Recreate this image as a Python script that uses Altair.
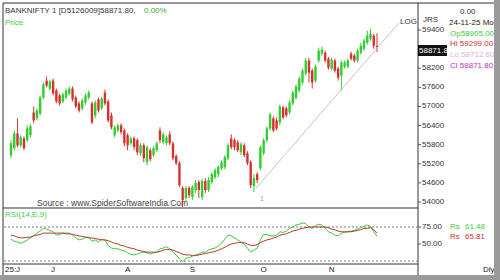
import altair as alt
import pandas as pd

# ---------------- data ----------------
opn = [55470, 55690, 56155, 55780, 56000, 55940, 56095, 56810, 56625, 56780,
       57280, 57810, 57560, 57810, 57500, 57345, 57155, 57280, 57405, 57560,
       57280, 57095, 56940, 57125, 57280, 57095, 56720, 57220, 56940, 57435,
       57155, 56720, 56095, 56250, 56405, 56250, 56095, 55845, 56000, 55940,
       55530, 55780, 55250, 55625, 55470, 55625, 56250, 55875, 55845, 56125,
       55845, 55440, 55220, 54440, 54125, 54440, 54155, 54375, 54625, 54155,
       54655, 54375, 54625, 54780, 54875, 55060, 55095, 55375, 56000, 55940,
       55875, 55560, 55780, 55530, 55250, 54500, 54875, 55060, 55530, 55940,
       56310, 56625, 56560, 56500, 56970, 56940, 56810, 57095, 57280, 57500,
       57750, 58030, 58440, 58125, 57810, 58440, 58655, 58690, 58500, 58190,
       58440, 58190, 57970, 58250, 58250, 58655, 58595, 58440, 58690, 58810,
       59000, 59125, 59220, 58905]
high = [55940, 56250, 56625, 56095, 56060, 56405, 56440, 57000, 56940, 57345,
        57750, 57940, 57845, 57875, 57560, 57405, 57435, 57560, 57625, 57625,
        57345, 57155, 57250, 57405, 57500, 57155, 57190, 57280, 57310, 57530,
        57220, 56810, 56405, 56470, 56470, 56310, 56155, 56060, 56060, 56000,
        55845, 55845, 55780, 55690, 55750, 55905, 56345, 56190, 56095, 56220,
        55905, 55500, 55280, 54500, 54500, 54500, 54530, 54690, 54690, 54720,
        54750, 54780, 54935, 55060, 55155, 55310, 55470, 55845, 56125, 56000,
        55940, 55875, 55845, 55595, 55310, 54875, 54935, 55780, 56000, 56375,
        56810, 56690, 56655, 57060, 57030, 57000, 57190, 57500, 57690, 57940,
        58190, 58530, 58530, 58190, 58310, 58845, 58875, 58750, 58560, 58530,
        58500, 58250, 58440, 58440, 58500, 58720, 58655, 58810, 59000, 59125,
        59375, 59440, 59280, 59299]
low = [55375, 55625, 55720, 55720, 55625, 55875, 56030, 56470, 56560, 56720,
       57220, 57595, 57500, 57345, 57095, 57030, 57095, 57220, 57345, 57155,
       56940, 56810, 56875, 57060, 57220, 56440, 56625, 56810, 56875, 57030,
       56500, 56280, 56030, 56190, 56125, 55750, 55625, 55780, 55625, 55470,
       55440, 55250, 55155, 55280, 55405, 55560, 55845, 55810, 55780, 55780,
       55310, 55155, 54470, 53845, 54030, 54125, 54060, 54280, 54125, 54060,
       54280, 54310, 54560, 54720, 54780, 55000, 55030, 55310, 55655, 55625,
       55560, 55470, 55405, 55155, 54440, 54310, 54595, 55000, 55470, 55875,
       56250, 56190, 56250, 56405, 56595, 56655, 56750, 57030, 57220, 57435,
       57690, 57970, 57750, 57560, 57750, 58375, 58595, 58375, 58155, 58125,
       58060, 57810, 57500, 58190, 58190, 58440, 58375, 58375, 58625, 58750,
       58940, 59060, 58810, 58712]
cls = [55845, 56155, 55780, 56030, 55690, 56310, 56375, 56560, 56875, 57280,
       57690, 57655, 57780, 57405, 57155, 57095, 57375, 57500, 57560, 57220,
       57000, 56875, 57190, 57345, 57435, 56500, 57125, 56875, 57250, 57095,
       56560, 56345, 56345, 56405, 56190, 55845, 55780, 56000, 55720, 55560,
       55780, 55375, 55720, 55345, 55690, 55845, 55940, 56125, 56030, 55845,
       55375, 55220, 54530, 54060, 54440, 54220, 54470, 54595, 54375, 54655,
       54375, 54690, 54875, 55000, 55095, 55250, 55405, 55780, 55720, 55720,
       55625, 55810, 55470, 55220, 54530, 54750, 54690, 55720, 55940, 56310,
       56750, 56250, 56310, 57000, 56655, 56720, 57125, 57435, 57625, 57875,
       58125, 58440, 58060, 57750, 58250, 58750, 58780, 58440, 58220, 58470,
       58125, 57905, 58375, 58375, 58440, 58500, 58440, 58750, 58905, 59060,
       59220, 59280, 58905, 58871.8]

rsi = [57, 54, 53, 51, 53, 56, 59, 62, 66, 69,
       73, 72, 70, 68, 63, 64, 66, 66, 66, 63,
       59, 56, 57, 60, 60, 54, 56, 53, 57, 56,
       48, 44, 43, 43, 41, 40, 37, 35, 34, 35,
       37, 38, 37, 35, 37, 38, 43, 44, 46, 43,
       38, 34, 28, 24, 29, 30, 32, 34, 35, 38,
       38, 41, 43, 44, 47, 51, 57, 63, 62, 59,
       56, 53, 50, 44, 38, 41, 44, 56, 64, 64,
       62, 62, 63, 68, 67, 69, 73, 75, 78, 79,
       81, 80, 75, 73, 77, 79, 78, 73, 68, 66,
       63, 62, 66, 67, 68, 69, 70, 72, 74, 76,
       78, 76, 68, 61.48]
sig = [63, 62, 60, 59, 59, 60, 60, 62, 63, 64,
       66, 66, 66, 66, 66, 66, 66, 65, 65, 64,
       63, 62, 61, 60, 59, 59, 58, 57, 56, 56,
       55, 53, 51, 50, 48, 47, 45, 44, 43, 41,
       40, 39, 38, 38, 38, 38, 39, 41, 42, 42,
       41, 39, 37, 35, 34, 34, 33, 33, 34, 35,
       36, 37, 38, 39, 41, 43, 45, 48, 50, 51,
       52, 52, 52, 50, 48, 48, 49, 52, 54, 56,
       57, 59, 60, 63, 64, 65, 67, 69, 70, 72,
       73, 74, 75, 75, 75, 75, 75, 75, 74, 72,
       71, 69, 68, 68, 68, 68, 69, 70, 71, 73,
       73, 74, 71, 65.81]

price_ticks = [54000, 54600, 55200, 55800, 56400, 57000, 57600, 58200, 58800, 59400]
rsi_ticks = [50, 75]
rsi_levels = [25, 75]
month_idx = [13, 36, 56, 78, 99]
month_lbl = ["J", "A", "S", "O", "N"]
trend_i = [75.7, 119.8]
trend_p = [54440, 59625]

GREEN = "#2ecf2e"
RED = "#d63131"
FONT = "Liberation Sans"

n = len(cls)
candles = pd.DataFrame({"i": list(range(n)), "o": opn, "h": high, "l": low, "c": cls})
candles["dir"] = ["up" if c >= o else "down" for o, c in zip(opn, cls)]
rsidf = pd.DataFrame({"i": list(range(n)), "rsi": rsi, "sig": sig})
trend = pd.DataFrame({"i": trend_i, "p": trend_p})
pt = pd.DataFrame({"p": price_ticks, "lbl": [str(v) for v in price_ticks]})
pt = pt[pt["p"] != 58800]
rt = pd.DataFrame({"r": rsi_ticks, "lbl": [f"{v:.2f}" for v in rsi_ticks]})
rl = pd.DataFrame({"r": rsi_levels})
months = pd.DataFrame({"i": month_idx, "lbl": month_lbl})
dummy = pd.DataFrame({"a": [0]})

XS = alt.Scale(domain=[0, 113], range=[6, 382], nice=False, zero=False)
PS = alt.Scale(domain=[54000, 59400], range=[202, 30], nice=False, zero=False)
RS = alt.Scale(domain=[25, 75], range=[261, 227], nice=False, zero=False)
CS = alt.Scale(domain=["up", "down"], range=[GREEN, RED])


def X(f="i"):
    return alt.X(f"{f}:Q", scale=XS, axis=None)


def YP(f):
    return alt.Y(f"{f}:Q", scale=PS, axis=None)


def YR(f):
    return alt.Y(f"{f}:Q", scale=RS, axis=None)


def txt(s, x, y, color="#222222", size=8, align="left"):
    return alt.Chart(dummy).mark_text(text=s, align=align, baseline="middle", fontSize=size,
                                      font=FONT, color=color).encode(x=alt.value(x), y=alt.value(y))


def hline(x1, x2, y, color="#333333", w=1, dash=None):
    kw = dict(color=color, strokeWidth=w)
    if dash:
        kw["strokeDash"] = dash
    return alt.Chart(dummy).mark_rule(**kw).encode(x=alt.value(x1), x2=alt.value(x2), y=alt.value(y))


def vline(x, y1, y2, color="#333333", w=1):
    return alt.Chart(dummy).mark_rule(color=color, strokeWidth=w).encode(
        x=alt.value(x), y=alt.value(y1), y2=alt.value(y2))


def box(x1, x2, y1, y2, color):
    return alt.Chart(dummy).mark_rect(color=color).encode(
        x=alt.value(x1), x2=alt.value(x2), y=alt.value(y1), y2=alt.value(y2))


wicks = alt.Chart(candles).mark_rule(strokeWidth=1).encode(
    x=X(), y=YP("l"), y2="h:Q", color=alt.Color("dir:N", scale=CS, legend=None))
bodies = alt.Chart(candles).mark_bar(size=2.4).encode(
    x=X(), y=YP("o"), y2="c:Q", color=alt.Color("dir:N", scale=CS, legend=None))
trendline = alt.Chart(trend).mark_line(color="#c4c4c4", strokeWidth=1).encode(x=X(), y=YP("p"))

rsi_line = alt.Chart(rsidf).mark_line(color="#3acc3a", strokeWidth=1).encode(x=X(), y=YR("rsi"))
sig_line = alt.Chart(rsidf).mark_line(color="#b23a2a", strokeWidth=1).encode(x=X(), y=YR("sig"))
levels = alt.Chart(rl).mark_rule(color="#777777", strokeWidth=1, strokeDash=[2, 2]).encode(
    x=alt.value(4), x2=alt.value(417), y=YR("r"))

p_ticks = alt.Chart(pt).mark_rule(color="#555555").encode(x=alt.value(418), x2=alt.value(421), y=YP("p"))
p_lbls = alt.Chart(pt).mark_text(align="left", baseline="middle", fontSize=8, font=FONT,
                                 color="#333333").encode(x=alt.value(422), y=YP("p"), text="lbl:N")
r_ticks = alt.Chart(rt).mark_rule(color="#555555").encode(x=alt.value(418), x2=alt.value(421), y=YR("r"))
r_lbls = alt.Chart(rt).mark_text(align="left", baseline="middle", fontSize=8, font=FONT,
                                 color="#333333").encode(x=alt.value(422), y=YR("r"), text="lbl:N")
m_lbls = alt.Chart(months).mark_text(align="center", baseline="middle", fontSize=8, font=FONT,
                                     color="#222222").encode(x=X(), y=alt.value(270), text="lbl:N")

layers = [
    wicks, bodies, trendline,
    levels, rsi_line, sig_line,
    # frame
    hline(3, 494, 3), vline(3, 3, 275), hline(3, 418, 208), hline(3, 418, 264),
    vline(418, 3, 275),
    p_ticks, p_lbls, r_ticks, r_lbls, m_lbls,
    box(418, 447, 45, 56, "#111111"),
    txt("58871.8", 419, 50.5, "white", 8),
    txt("BANKNIFTY 1 [D5126009]58871.80,", 5, 11, "#333333", 8),
    txt("0.00%", 144, 11, "#33aa33", 8),
    txt("Price", 5, 23, "#44cc44", 8),
    txt("LOG", 400, 22, "#333333", 8),
    txt("JRS", 423, 20, "#333333", 8),
    txt("0.00", 460, 12, "#333333", 8),
    txt("24-11-25 Mo", 449, 23, "#222222", 8),
    txt("Op58905.00", 450, 34, "#44cc44", 8),
    txt("Hi 59299.00", 450, 44, "#d03030", 8),
    txt("Lo 58712.60", 450, 55, "#d8b4d8", 8),
    txt("Cl 58871.80", 450, 66, "#c030c0", 8),
    txt("Source : www.SpiderSoftwareIndia.Com", 37, 203, "#444444", 8.5),
    txt("1", 260, 199, "#999999", 7),
    txt("RSI(14,E,9)", 5, 215, "#44cc44", 8),
    txt("Rs", 450, 227, "#44cc44", 8),
    txt("61.48", 465, 227, "#44cc44", 8),
    txt("Rs", 450, 237, "#d03030", 8),
    txt("65.81", 465, 237, "#d03030", 8),
    txt("25:J", 5, 270, "#222222", 8),
    txt("Dly", 483, 270, "#222222", 8),
    # right / bottom shadow
    box(494, 500, 0, 280, "#9a9a9a"),
    box(0, 500, 275, 280, "#9a9a9a"),
]

chart = alt.layer(*layers).resolve_scale(y="independent").properties(
    width=500, height=280, autosize=alt.AutoSizeParams(type="none"), padding=0,
    background="white").configure_view(stroke=None)

chart.save("out.html", embed_options={"renderer": "svg", "actions": False})
